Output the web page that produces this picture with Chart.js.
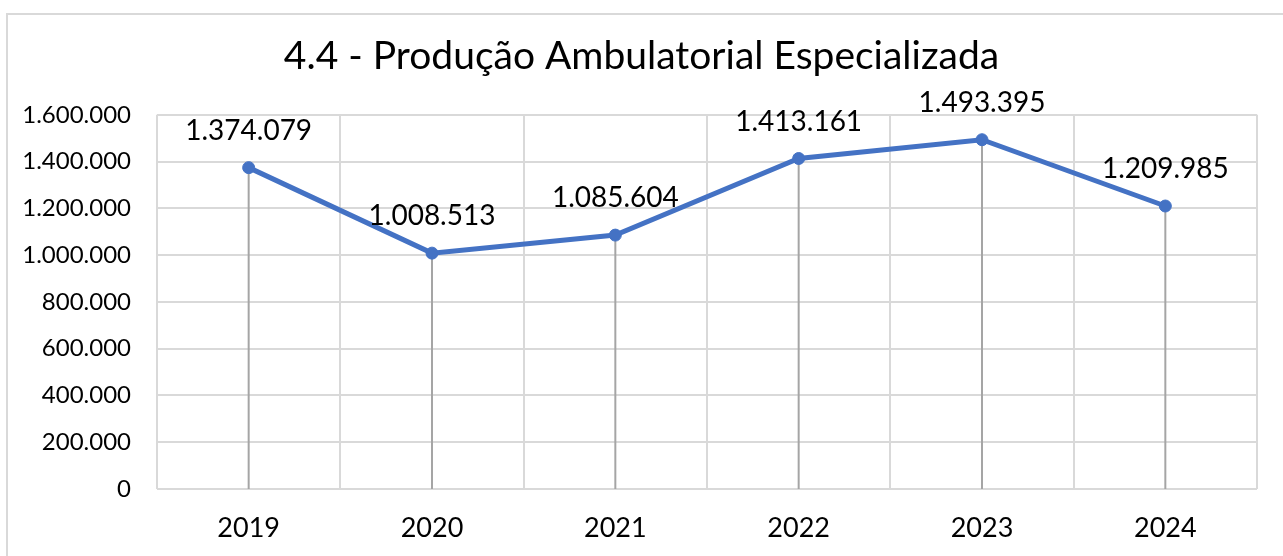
<!DOCTYPE html>
<html>
<head>
<meta charset="utf-8">
<script src="https://cdn.jsdelivr.net/npm/chart.js@4.4.1/dist/chart.umd.min.js"></script>
<style>
  html, body { margin: 0; padding: 0; background: #fff; overflow: hidden; }
  #frame { position: absolute; left: 6px; top: 13px; width: 1300px; height: 600px; border: 2px solid #d9d9d9; }
  canvas { position: absolute; left: 0; top: 0; }
</style>
</head>
<body>
<div id="frame"></div>
<canvas id="chart" width="1283" height="556"></canvas>
<script>
const years = ['2019', '2020', '2021', '2022', '2023', '2024'];
const producao = [1374079, 1008513, 1085604, 1413161, 1493395, 1209985];
const yTicks = [0, 200000, 400000, 600000, 800000, 1000000, 1200000, 1400000, 1600000];

const fontFamily = 'Lato, "Open Sans", sans-serif';

const fmt = (v) => String(v).replace(/\B(?=(\d{3})+(?!\d))/g, '.');

// gray drop lines from each point down to the x axis
const dropLines = {
  id: 'dropLines',
  beforeDatasetsDraw(chart) {
    const ctx = chart.ctx;
    const bottom = chart.scales.y.getPixelForValue(0);
    ctx.save();
    ctx.strokeStyle = '#a5a5a5';
    ctx.lineWidth = 2;
    chart.getDatasetMeta(0).data.forEach((pt) => {
      ctx.beginPath();
      ctx.moveTo(pt.x, pt.y);
      ctx.lineTo(pt.x, bottom);
      ctx.stroke();
    });
    ctx.restore();
  }
};

// value labels above the points
const valueLabels = {
  id: 'valueLabels',
  afterDatasetsDraw(chart) {
    const ctx = chart.ctx;
    ctx.save();
    ctx.font = '28px ' + fontFamily;
    ctx.fillStyle = '#000';
    ctx.textAlign = 'center';
    ctx.textBaseline = 'middle';
    chart.getDatasetMeta(0).data.forEach((pt, i) => {
      ctx.fillText(fmt(producao[i]), pt.x, pt.y - 37);
    });
    ctx.restore();
  }
};

new Chart(document.getElementById('chart'), {
  type: 'line',
  data: {
    labels: years,
    datasets: [{
      data: producao,
      borderColor: '#4472c4',
      backgroundColor: '#4472c4',
      borderWidth: 5,
      pointRadius: 6,
      pointBorderWidth: 1,
      tension: 0,
      clip: false
    }]
  },
  options: {
    responsive: false,
    animation: false,
    layout: { padding: 0 },
    plugins: {
      legend: { display: false },
      tooltip: { enabled: false },
      title: {
        display: true,
        text: '4.4 - Produção Ambulatorial Especializada',
        color: '#000',
        font: { family: fontFamily, size: 39, weight: 'normal' },
        padding: { top: 33, bottom: 35 }
      }
    },
    scales: {
      x: {
        offset: true,
        afterFit(scale) { scale.height = 67; },
        grid: { offset: true, color: '#d9d9d9', lineWidth: 2, drawTicks: false },
        border: { display: false },
        ticks: { color: '#000', font: { family: fontFamily, size: 27 }, padding: 23 }
      },
      y: {
        min: 0,
        max: 1600000,
        afterBuildTicks(scale) { scale.ticks = yTicks.map((v) => ({ value: v })); },
        afterFit(scale) { scale.width = 157; },
        grid: { color: '#d9d9d9', lineWidth: 2, drawTicks: false },
        border: { display: false },
        ticks: {
          color: '#000',
          font: { family: fontFamily, size: 24 },
          padding: 26,
          callback: (v) => fmt(v)
        }
      },
      // empty right axis, only keeps a margin so the title stays centred on the page
      yRight: {
        position: 'right',
        afterFit(scale) { scale.width = 26; },
        grid: { display: false },
        border: { display: false },
        ticks: { display: false }
      }
    }
  },
  plugins: [dropLines, valueLabels]
});
</script>
</body>
</html>
